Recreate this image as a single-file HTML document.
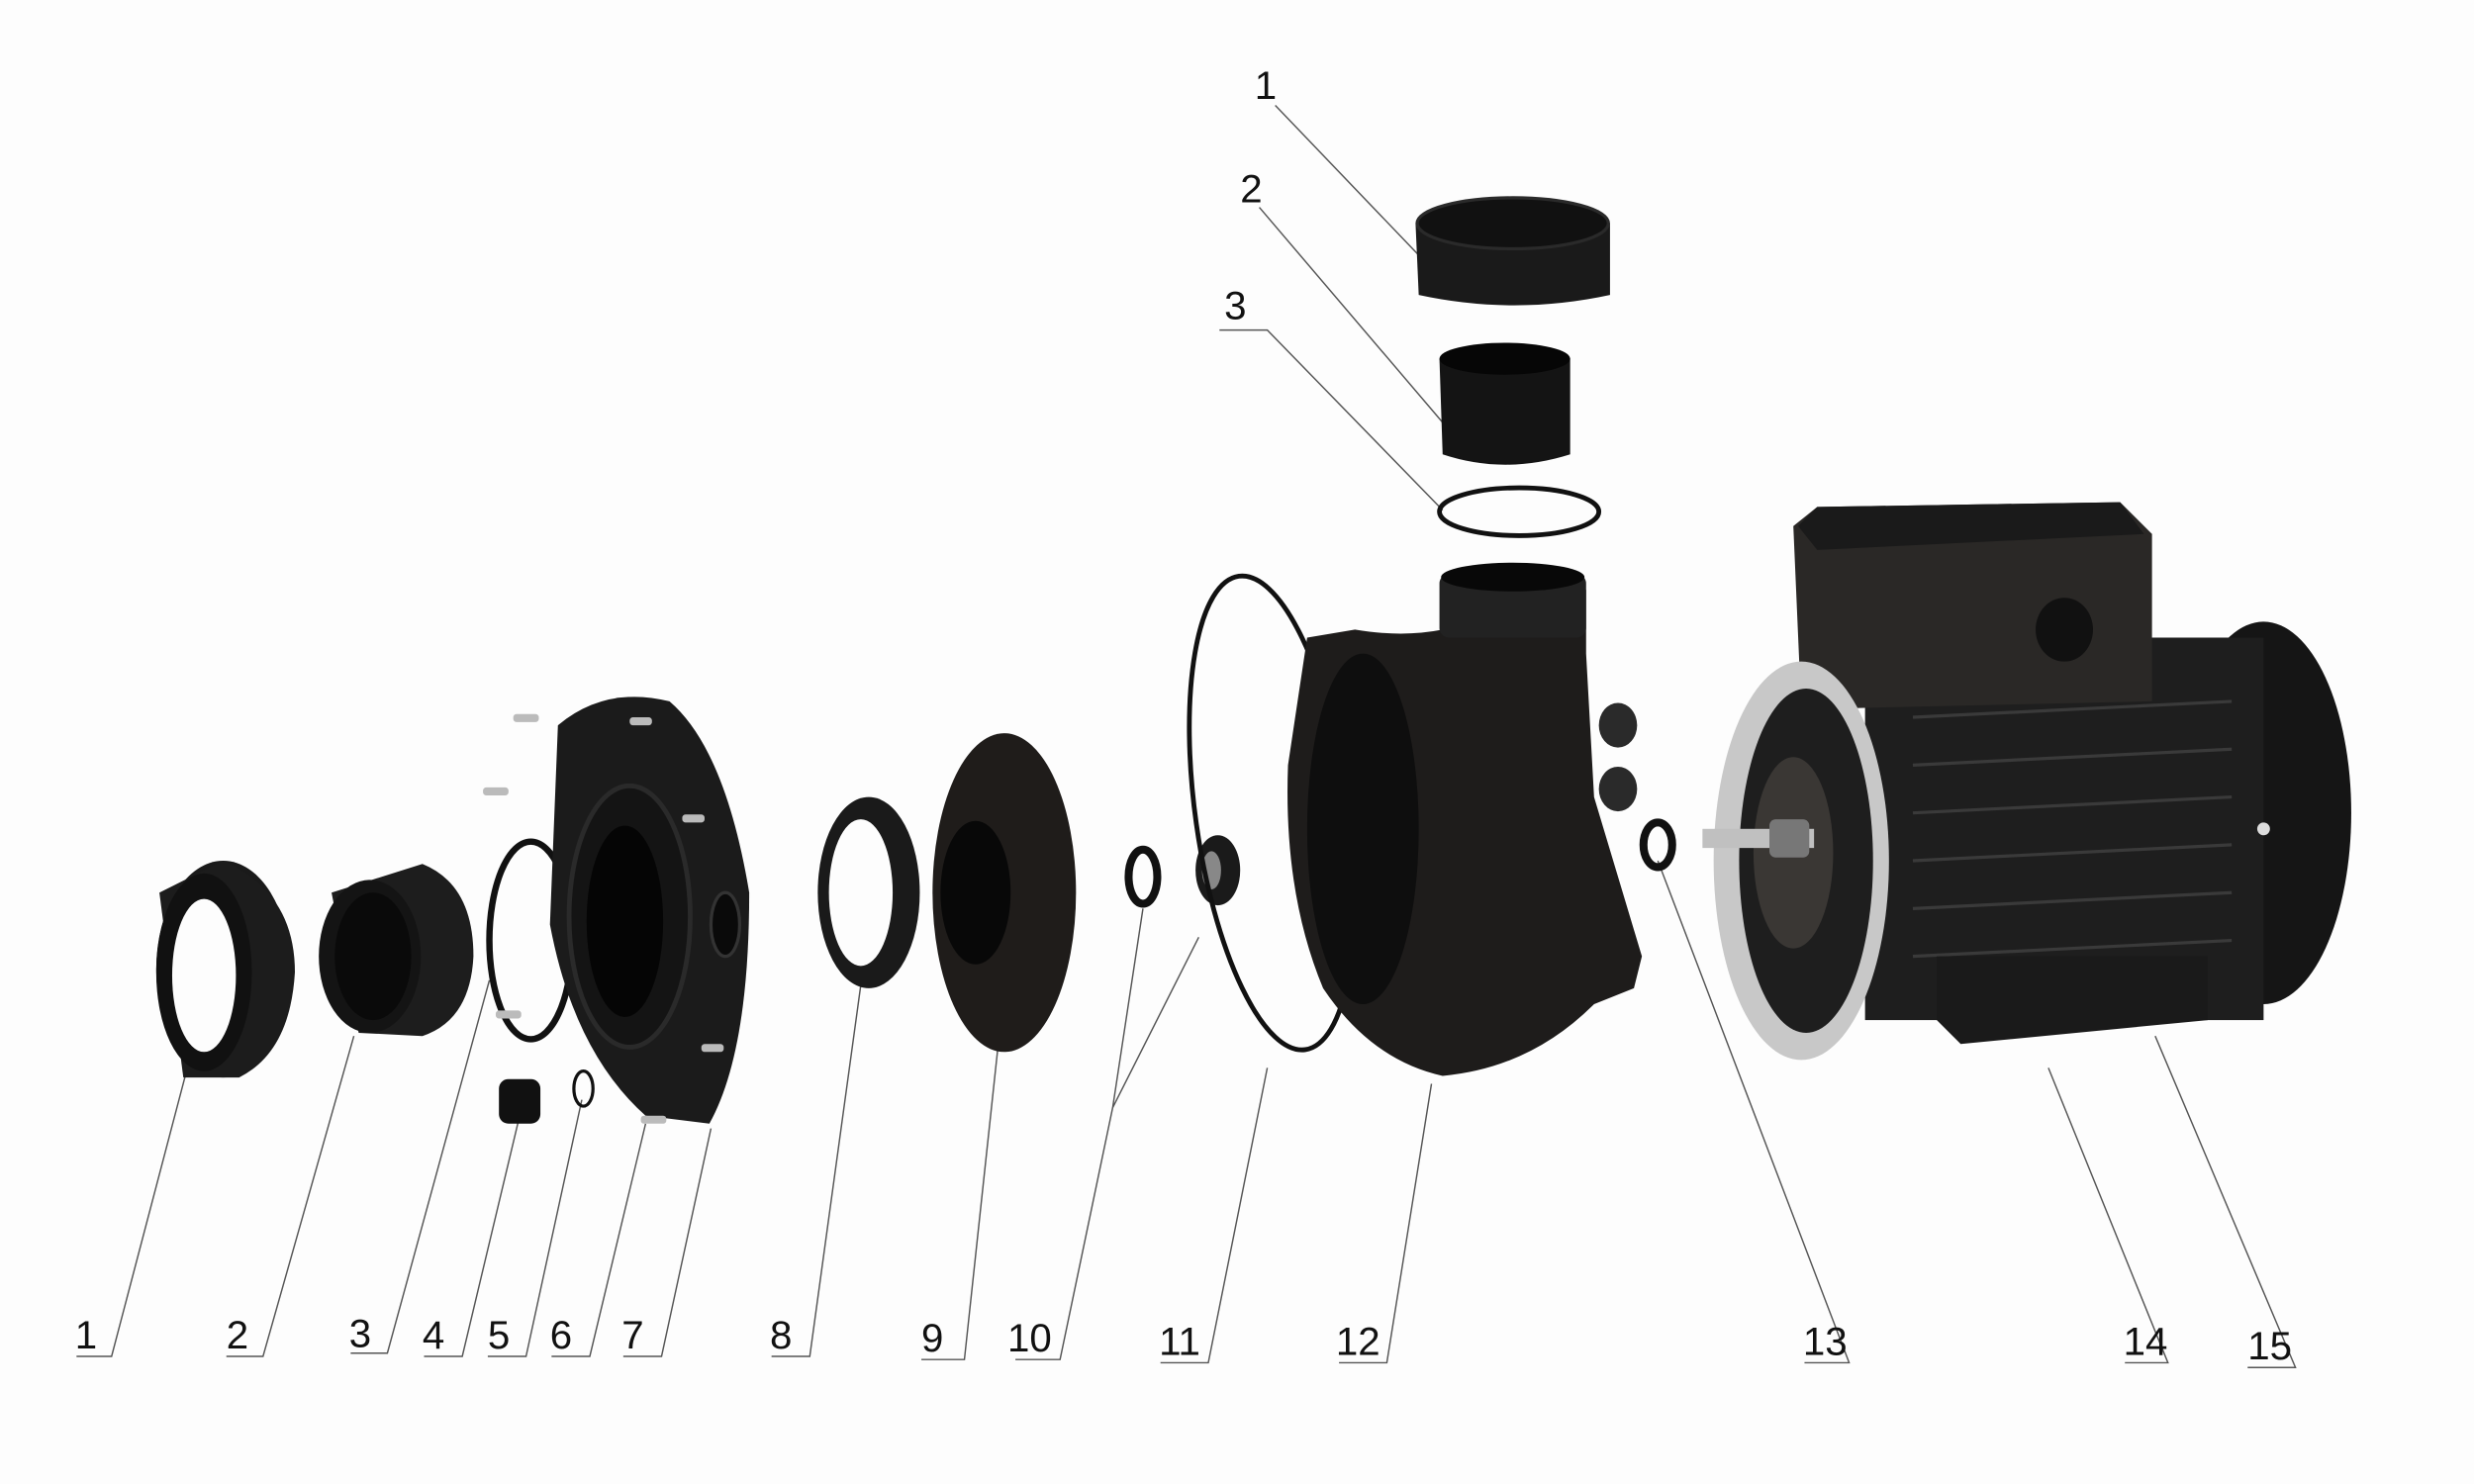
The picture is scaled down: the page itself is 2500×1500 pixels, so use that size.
<!DOCTYPE html>
<html><head><meta charset="utf-8"><style>
html,body{margin:0;padding:0;background:#fdfdfd;}
svg{display:block;}
</style></head><body>
<svg width="2500" height="1500" viewBox="0 0 1552 931" xmlns="http://www.w3.org/2000/svg" font-family="Liberation Sans, sans-serif">
<rect width="1552" height="931" fill="#fdfdfd"/>
<!-- leader lines -->
<g stroke="#555" stroke-width="0.9" fill="none">
<path d="M48,851 H70 L117,672"/>
<path d="M142,851 H165 L222,650"/>
<path d="M220,849 H243 L307,615"/>
<path d="M266,851 H290 L326,700"/>
<path d="M306,851 H330 L365,690"/>
<path d="M346,851 H370 L405,705"/>
<path d="M391,851 H415 L446,708"/>
<path d="M484,851 H508 L540,618"/>
<path d="M578,853 H605 L627,648"/>
<path d="M637,853 H665 L698,695 L717,570 M698,695 L752,588"/>
<path d="M728,855 H758 L795,670"/>
<path d="M840,855 H870 L898,680"/>
<path d="M1132,855 H1160 L1040,540"/>
<path d="M1333,855 H1360 L1285,670"/>
<path d="M1410,858 H1440 L1352,650"/>
<path d="M800,66 L890,160"/>
<path d="M790,130 L905,265"/>
<path d="M765,207 H795 L905,320"/>
</g>
<g font-size="25" fill="#111">
<text x="47" y="846">1</text><text x="142" y="846">2</text><text x="219" y="845">3</text><text x="265" y="846">4</text>
<text x="306" y="846">5</text><text x="345" y="846">6</text><text x="390" y="846">7</text><text x="483" y="846">8</text>
<text x="578" y="848">9</text><text x="632" y="848">10</text><text x="727" y="850">11</text><text x="838" y="850">12</text>
<text x="1131" y="850">13</text><text x="1332" y="850">14</text><text x="1410" y="853">15</text>
<text x="787" y="62">1</text><text x="778" y="127">2</text><text x="768" y="200">3</text>
</g>
<!-- part 1 union nut -->
<ellipse cx="140" cy="608" rx="42" ry="68" fill="#1a1a1a"/>
<path d="M100,560 L140,540 Q185,560 185,610 Q182,660 150,676 L115,676 Z" fill="#1c1c1c"/>
<ellipse cx="128" cy="610" rx="30" ry="62" fill="#111"/>
<ellipse cx="128" cy="612" rx="20" ry="48" fill="#fdfdfd"/>
<!-- part 2 tail -->
<path d="M208,560 L265,542 Q297,555 297,600 Q295,640 265,650 L225,648 Z" fill="#1d1d1d"/>
<ellipse cx="232" cy="600" rx="32" ry="48" fill="#141414"/>
<ellipse cx="234" cy="600" rx="24" ry="40" fill="#0a0a0a"/>
<!-- O-ring 3 -->
<ellipse cx="333" cy="590" rx="26" ry="62" fill="none" stroke="#111" stroke-width="4"/>
<!-- cover 7 -->
<path d="M350,455 Q380,430 420,440 Q455,470 470,560 Q470,660 445,705 L405,700 Q360,660 345,580 Z" fill="#1b1b1b"/>
<ellipse cx="395" cy="575" rx="38" ry="82" fill="#141414" stroke="#2a2a2a" stroke-width="3"/>
<ellipse cx="392" cy="578" rx="24" ry="60" fill="#050505"/>
<ellipse cx="455" cy="580" rx="9" ry="20" fill="#0a0a0a" stroke="#333" stroke-width="2"/>
<!-- screws -->
<g fill="#bbb"><rect x="322" y="448" width="16" height="5" rx="2"/><rect x="303" y="494" width="16" height="5" rx="2"/>
<rect x="311" y="634" width="16" height="5" rx="2"/><rect x="402" y="700" width="16" height="5" rx="2"/>
<rect x="395" y="450" width="14" height="5" rx="2"/><rect x="428" y="511" width="14" height="5" rx="2"/><rect x="440" y="655" width="14" height="5" rx="2"/></g>
<!-- plug 4, ring 5 -->
<rect x="313" y="677" width="26" height="28" rx="6" fill="#111"/>
<ellipse cx="366" cy="683" rx="6" ry="11" fill="none" stroke="#111" stroke-width="2"/>
<!-- ring 8 -->
<ellipse cx="545" cy="560" rx="32" ry="60" fill="#1a1a1a"/>
<ellipse cx="540" cy="560" rx="20" ry="46" fill="#fdfdfd"/>
<!-- impeller 9 -->
<ellipse cx="630" cy="560" rx="45" ry="100" fill="#1f1c1a"/>
<ellipse cx="612" cy="560" rx="22" ry="45" fill="#080808"/>
<!-- seal 10 -->
<ellipse cx="717" cy="550" rx="9" ry="17" fill="none" stroke="#111" stroke-width="5"/>
<ellipse cx="764" cy="546" rx="14" ry="22" fill="#1a1a1a"/>
<ellipse cx="760" cy="546" rx="6" ry="12" fill="#888"/>
<!-- O-ring 11 -->
<ellipse cx="798" cy="510" rx="48" ry="150" transform="rotate(-8 798 510)" fill="none" stroke="#111" stroke-width="3"/>
<!-- housing 12 -->
<path d="M820,400 L850,395 Q880,400 905,395 L905,370 L995,370 L995,410 L1000,500 L1030,600 L1025,620 L1000,630 Q960,670 905,675 Q860,665 830,620 Q805,560 808,480 Z" fill="#1e1c1b"/>
<rect x="903" y="360" width="92" height="40" rx="6" fill="#222"/>
<ellipse cx="949" cy="362" rx="45" ry="9" fill="#080808"/>
<ellipse cx="855" cy="520" rx="35" ry="110" fill="#0e0e0e"/>
<ellipse cx="1015" cy="455" rx="12" ry="14" fill="#2a2a2a"/>
<ellipse cx="1015" cy="495" rx="12" ry="14" fill="#2a2a2a"/>
<!-- top parts -->
<path d="M888,140 Q950,118 1010,140 L1010,185 Q950,198 890,185 Z" fill="#1a1a1a"/>
<ellipse cx="949" cy="140" rx="60" ry="16" fill="#111" stroke="#2a2a2a" stroke-width="2"/>
<path d="M903,225 Q944,210 985,225 L985,285 Q944,298 905,285 Z" fill="#141414"/>
<ellipse cx="944" cy="225" rx="41" ry="10" fill="#060606"/>
<ellipse cx="953" cy="321" rx="50" ry="15" fill="none" stroke="#111" stroke-width="3"/>
<!-- shaft ring 13 -->
<ellipse cx="1040" cy="530" rx="9" ry="14" fill="none" stroke="#111" stroke-width="5"/>
<!-- motor -->
<ellipse cx="1420" cy="510" rx="55" ry="120" fill="#151515"/>
<rect x="1170" y="400" width="250" height="240" fill="#1e1e1e"/>
<g stroke="#3a3a3a" stroke-width="2"><line x1="1200" y1="450" x2="1400" y2="440"/><line x1="1200" y1="480" x2="1400" y2="470"/><line x1="1200" y1="510" x2="1400" y2="500"/><line x1="1200" y1="540" x2="1400" y2="530"/><line x1="1200" y1="570" x2="1400" y2="560"/><line x1="1200" y1="600" x2="1400" y2="590"/></g>
<path d="M1125,330 L1140,318 L1330,315 L1350,335 L1350,440 L1130,445 Z" fill="#2a2826"/>
<path d="M1128,330 L1140,318 L1330,315 L1345,335 L1140,345 Z" fill="#1a1a1a"/>
<ellipse cx="1295" cy="395" rx="18" ry="20" fill="#111"/>
<path d="M1215,600 L1385,600 L1385,640 L1230,655 L1215,640 Z" fill="#1a1a1a"/>
<ellipse cx="1130" cy="540" rx="55" ry="125" fill="#c8c8c8"/>
<ellipse cx="1133" cy="540" rx="42" ry="108" fill="#1e1e1e"/>
<ellipse cx="1125" cy="535" rx="25" ry="60" fill="#3a3734"/>
<rect x="1068" y="520" width="70" height="12" fill="#c0c0c0"/>
<rect x="1110" y="514" width="25" height="24" rx="4" fill="#777"/>
<circle cx="1420" cy="520" r="4" fill="#ddd"/>
</svg>
</body></html>
